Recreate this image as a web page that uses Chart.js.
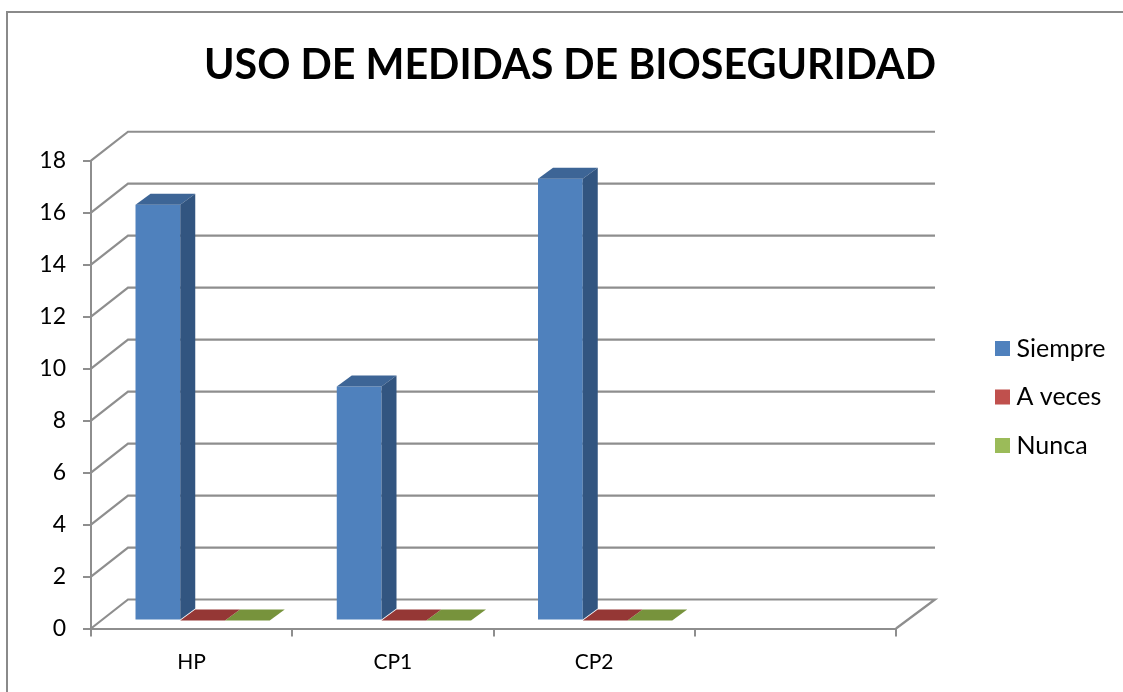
<!DOCTYPE html>
<html><head><meta charset="utf-8">
<style>html,body{margin:0;padding:0;background:#fff}#w{position:absolute;left:0;top:0;width:1123px;height:692px}</style>
<script src="https://cdn.jsdelivr.net/npm/chart.js@4"></script></head>
<body><div id="w"><canvas id="c" width="1123" height="692"></canvas></div>
<script>
const categories = ['HP','CP1','CP2',''];
const siempre = [16,9,17,null];
const aVeces = [0,0,0,null];
const nunca = [0,0,0,null];
const yMax = 18, yStep = 2;
const WALL = {dx:37,dy:-29,rightExtra:2}, BAR = {dx:11,dy:-8}, SIDE = {dx:15,dy:-11};
const GRID='#8e8e8e';
const shades=[{top:'#3d6596',side:'#325580'},{top:'#953735',side:'#7a2e2c'},{top:'#77933c',side:'#617a30'}];
const frame={id:'frame',beforeDraw(ch){const c=ch.ctx;c.save();c.fillStyle='#fff';c.fillRect(0,0,1123,692);
 c.strokeStyle='#8a8a8a';c.lineWidth=2;c.beginPath();c.moveTo(7,692);c.lineTo(7,12);c.lineTo(1123,12);c.stroke();c.restore();}};
const walls={id:'walls',beforeDatasetsDraw(ch){const c=ch.ctx,y=ch.scales.y,a=ch.chartArea;c.save();
 c.strokeStyle=GRID;c.lineWidth=2.2;
 y.ticks.forEach(t=>{const p=y.getPixelForValue(t.value);c.beginPath();c.moveTo(a.left,p);c.lineTo(a.left+WALL.dx,p+WALL.dy);
  c.lineTo(a.right+WALL.dx+WALL.rightExtra,p+WALL.dy);if(t.value===0){c.lineTo(a.right,p);}c.stroke();});
 c.restore();
 c.save();c.translate(BAR.dx,BAR.dy);},
 afterDatasetDraw(ch,args){const c=ch.ctx,s=shades[args.index],vals=ch.data.datasets[args.index].data;
  args.meta.data.forEach((b,i)=>{if(vals[i]==null)return;const l=b.x-b.width/2,r=b.x+b.width/2;
   c.fillStyle=s.top;c.beginPath();c.moveTo(l,b.y);c.lineTo(l+SIDE.dx,b.y+SIDE.dy);c.lineTo(r+SIDE.dx,b.y+SIDE.dy);c.lineTo(r,b.y);c.closePath();c.fill();
   if(b.base-b.y>0.5){c.fillStyle=s.side;c.beginPath();c.moveTo(r,b.y);c.lineTo(r+SIDE.dx,b.y+SIDE.dy);c.lineTo(r+SIDE.dx,b.base+SIDE.dy);c.lineTo(r,b.base);c.closePath();c.fill();}
  });},
 afterDatasetsDraw(ch){ch.ctx.restore();}};
const placeBoxes={id:'placeBoxes',afterLayout(ch){const l=ch.legend,w=l.width,h=l.height;l.left=977.5;l.right=977.5+w;l.top=312.5;l.bottom=312.5+h;
 const t=ch.titleBlock;t.left+=122;t.right+=122;}};
new Chart(document.getElementById('c'),{type:'bar',
 data:{labels:categories,datasets:[
  {label:'Siempre',data:siempre,backgroundColor:'#4f81bd'},
  {label:'A veces',data:aVeces,backgroundColor:'#c0504d'},
  {label:'Nunca',data:nunca,backgroundColor:'#9bbb59'}]},
 plugins:[frame,walls,placeBoxes],
 options:{responsive:false,animation:false,
  layout:{padding:{left:0,right:227,top:0,bottom:0}},
  datasets:{bar:{categoryPercentage:0.667,barPercentage:1,grouped:true}},
  plugins:{
   title:{display:true,text:'USO DE MEDIDAS DE BIOSEGURIDAD',color:'#000',font:{family:'Lato',size:41.2,weight:'bold'},padding:{top:40.5,bottom:70.8}},
   legend:{position:'chartArea',align:'start',labels:{boxWidth:3,boxHeight:3,padding:23.5,color:'#000',font:{family:'Lato',size:25},
     generateLabels(ch){return Chart.defaults.plugins.legend.labels.generateLabels(ch).map(i=>({...i,strokeStyle:i.fillStyle,lineWidth:12}));}}},
   tooltip:{enabled:false}},
  scales:{
   x:{grid:{drawOnChartArea:false,drawTicks:true,tickLength:8,color:GRID,lineWidth:2,offset:true},border:{color:GRID,width:2},
      ticks:{color:'#000',font:{family:'Lato',size:21},padding:13,maxRotation:0},
      afterFit(s){s.height=63.5;}},
   y:{min:0,max:yMax,grid:{drawOnChartArea:false,drawTicks:true,tickLength:8,color:GRID,lineWidth:2},border:{color:GRID,width:2},
      ticks:{stepSize:yStep,color:'#000',font:{family:'Lato',size:23},padding:17},
      afterFit(s){s.width=91;}}
  }}});
</script></body></html>
